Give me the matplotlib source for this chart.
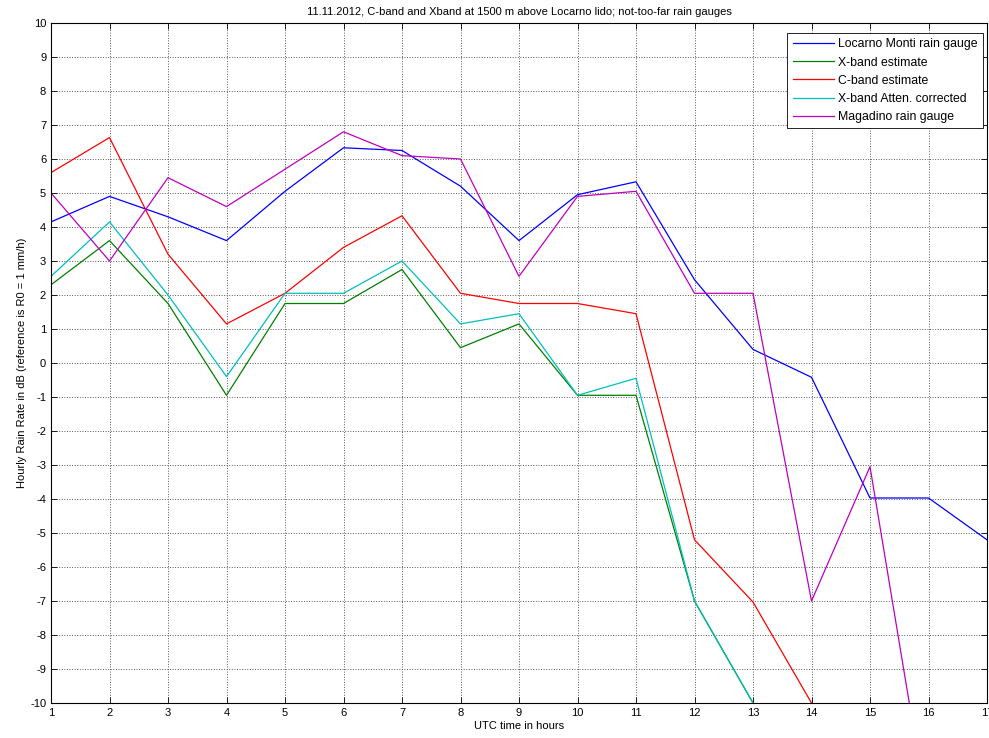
import numpy as np
import matplotlib
matplotlib.use('Agg')
import matplotlib.pyplot as plt

plt.rcParams['font.family'] = ['Liberation Sans Narrow', 'Liberation Sans', 'DejaVu Sans']
plt.rcParams['font.size'] = 8
plt.rcParams['axes.unicode_minus'] = False

hours = np.arange(1, 18)
nan = np.nan

locarno_monti = [4.15, 4.9, 4.3, 3.6, 5.05, 6.33, 6.25, 5.2, 3.6, 4.95, 5.33,
                 2.45, 0.4, -0.42, -3.97, -3.97, -5.2]
xband_est = [2.3, 3.6, 1.75, -0.95, 1.75, 1.75, 2.75, 0.45, 1.15, -0.95, -0.95,
             -7.0, -10.0, nan, nan, nan, nan]
cband_est = [5.6, 6.63, 3.2, 1.15, 2.05, 3.4, 4.33, 2.05, 1.75, 1.75, 1.45,
             -5.2, -7.03, -10.0, nan, nan, nan]
xband_corr = [2.55, 4.15, 2.0, -0.4, 2.05, 2.05, 3.0, 1.15, 1.45, -0.95, -0.45,
              -7.0, -10.0, nan, nan, nan, nan]
magadino = [5.0, 3.0, 5.45, 4.6, 5.7, 6.8, 6.1, 6.0, 2.55, 4.9, 5.05,
            2.05, 2.05, -7.0, -3.05, -13.4, nan]

series = [
    ('Locarno Monti rain gauge', locarno_monti, (0, 0, 1)),
    ('X-band estimate', xband_est, (0, 0.5, 0)),
    ('C-band estimate', cband_est, (1, 0, 0)),
    ('X-band Atten. corrected', xband_corr, (0, 0.75, 0.75)),
    ('Magadino rain gauge', magadino, (0.75, 0, 0.75)),
]

fig = plt.figure(figsize=(9.89, 7.38), dpi=100)
ax = fig.add_axes([51/989, 35/738, 936/989, 680/738])

for label, vals, col in series:
    ax.plot(hours, vals, '-', color=col, lw=0.9, label=label)

ax.set_xlim(1, 17)
ax.set_ylim(-10, 10)
ax.set_xticks(np.arange(1, 18))
ax.set_yticks(np.arange(-10, 11))
ax.grid(True, color='0.35', linestyle=':', linewidth=0.7)
ax.tick_params(direction='in', top=True, right=True, length=4, width=0.6)
for sp in ax.spines.values():
    sp.set_linewidth(0.8)

ax.set_title('11.11.2012, C-band and Xband at 1500 m above Locarno lido; not-too-far rain gauges',
             fontsize=8, pad=6)
ax.set_xlabel('UTC time in hours', labelpad=2)
ax.set_ylabel('Hourly Rain Rate in dB (reference is R0 = 1 mm/h)', labelpad=2)

# legend box placed like the matlab one: 4 px from the right, 10 px below the top
leg = ax.legend(loc='upper right', bbox_to_anchor=(1 - 4/936, 1 - 10/680),
                fancybox=False, framealpha=1, edgecolor='k',
                handlelength=3.4, handletextpad=0.3, labelspacing=0.5,
                borderpad=0.45, borderaxespad=0, fontsize=8.8)
leg.get_frame().set_linewidth(0.6)

fig.savefig('out.png', dpi=100)
